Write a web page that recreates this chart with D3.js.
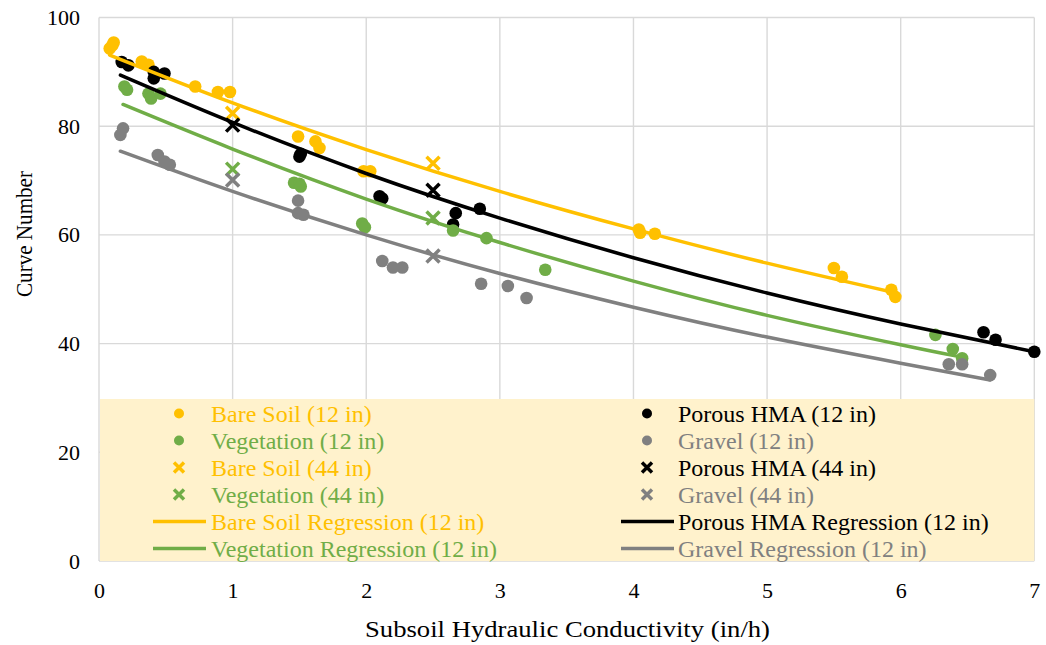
<!DOCTYPE html>
<html>
<head>
<meta charset="utf-8">
<script src="https://cdn.jsdelivr.net/npm/d3@7"></script>
<style>
  html, body { margin: 0; padding: 0; background: #fff; }
  svg { display: block; }
  text { font-family: "Liberation Serif", "Times New Roman", serif; }
</style>
</head>
<body>
<svg id="chart" width="1046" height="645"></svg>
<script>
// ---- data ----
const xTicks = [0, 1, 2, 3, 4, 5, 6, 7];
const yTicks = [0, 20, 40, 60, 80, 100];

const bareSoil12X = [0.08, 0.10, 0.11, 0.32, 0.37, 0.72, 0.89, 0.98, 1.49, 1.62, 1.65, 1.98, 2.03, 4.04, 4.05, 4.16, 5.50, 5.56, 5.93, 5.96];
const bareSoil12Y = [94.3, 94.9, 95.4, 91.9, 91.3, 87.3, 86.3, 86.3, 78.1, 77.2, 76.0, 71.7, 71.7, 61.0, 60.4, 60.2, 53.9, 52.3, 49.9, 48.6];

const hma12X = [0.17, 0.22, 0.41, 0.41, 0.49, 1.50, 1.51, 2.10, 2.12, 2.65, 2.67, 2.85, 6.62, 6.71, 7.0];
const hma12Y = [91.8, 91.2, 90.0, 88.8, 89.7, 74.4, 74.9, 67.1, 66.7, 61.9, 64.0, 64.8, 42.1, 40.7, 38.5];

const veg12X = [0.19, 0.21, 0.37, 0.39, 0.46, 1.46, 1.50, 1.51, 1.97, 1.99, 2.65, 2.90, 3.34, 6.26, 6.39, 6.46];
const veg12Y = [87.3, 86.7, 86.0, 85.1, 86.0, 69.6, 69.4, 68.9, 62.1, 61.4, 60.8, 59.4, 53.6, 41.6, 39.0, 37.3];

const gravel12X = [0.16, 0.18, 0.44, 0.49, 0.53, 1.49, 1.49, 1.53, 2.12, 2.20, 2.27, 2.86, 3.06, 3.20, 6.36, 6.46, 6.67];
const gravel12Y = [78.4, 79.6, 74.7, 73.5, 72.9, 66.3, 64.0, 63.7, 55.2, 54.0, 54.0, 51.0, 50.6, 48.4, 36.2, 36.2, 34.2];

const bareSoil44X = [1, 2.5];
const bareSoil44Y = [82.4, 73.2];
const hma44X = [1, 2.5];
const hma44Y = [80.2, 68.2];
const veg44X = [1, 2.5];
const veg44Y = [72.1, 63.1];
const gravel44X = [1, 2.5];
const gravel44Y = [70.1, 56.1];

const bareRegX = [0.08, 1, 2, 3, 4, 5, 5.95];
const bareRegY = [93.1, 84.3, 75.7, 68.0, 61.1, 54.8, 49.4];
const hmaRegX = [0.16, 1, 2, 3, 4, 5, 6, 7];
const hmaRegY = [89.4, 80.7, 71.3, 63.1, 55.8, 49.3, 43.6, 38.5];
const vegRegX = [0.18, 1, 2, 3, 4, 5, 6, 6.42];
const vegRegY = [84.0, 75.8, 66.6, 58.6, 51.5, 45.2, 39.8, 37.7];
const gravRegX = [0.16, 1, 2, 3, 4, 5, 6, 6.67];
const gravRegY = [75.4, 68.0, 60.0, 52.9, 46.7, 41.2, 36.4, 33.3];

const colors = { bare: "#FFC000", hma: "#000000", veg: "#70AD47", gravel: "#808080" };
const FONT = "'Liberation Serif', 'Times New Roman', serif";

// ---- chart ----
const svg = d3.select("#chart");
const x = d3.scaleLinear().domain([0, 7]).range([99, 1034.3]);
const y = d3.scaleLinear().domain([0, 100]).range([561, 17.5]);

const zip = (xs, ys) => xs.map((v, i) => [v, ys[i]]);

// gridlines
const grid = svg.append("g");
grid.selectAll("line.h").data(yTicks).enter().append("line")
  .attr("x1", x(0)).attr("x2", x(7))
  .attr("y1", d => y(d)).attr("y2", d => y(d))
  .attr("stroke", "#D9D9D9").attr("stroke-width", 1.4);
grid.selectAll("line.v").data(xTicks).enter().append("line")
  .attr("x1", d => x(d)).attr("x2", d => x(d))
  .attr("y1", y(0)).attr("y2", y(100))
  .attr("stroke", "#D9D9D9").attr("stroke-width", 1.4);

// axes (labels only)
const yAxis = d3.axisLeft(y).tickValues(yTicks).tickFormat(d3.format("d")).tickSize(0).tickPadding(0);
const gy = svg.append("g").attr("transform", "translate(80,0)").call(yAxis)
  .attr("font-family", FONT).attr("font-size", 22);
gy.select(".domain").remove();
gy.selectAll("text").attr("fill", "#000");

const xAxis = d3.axisBottom(x).tickValues(xTicks).tickFormat(d3.format("d")).tickSize(0).tickPadding(0);
const gx = svg.append("g").attr("transform", "translate(0,582)").call(xAxis)
  .attr("font-family", FONT).attr("font-size", 22);
gx.select(".domain").remove();
gx.selectAll("text").attr("fill", "#000");

// axis titles
svg.append("text").attr("x", 567.5).attr("y", 637)
  .attr("text-anchor", "middle").attr("font-size", 23).attr("font-family", FONT)
  .attr("textLength", 405).attr("lengthAdjust", "spacingAndGlyphs")
  .text("Subsoil Hydraulic Conductivity (in/h)");
svg.append("text").attr("transform", "translate(32,234) rotate(-90)")
  .attr("text-anchor", "middle").attr("font-size", 24).attr("font-family", FONT)
  .attr("textLength", 126).attr("lengthAdjust", "spacingAndGlyphs")
  .text("Curve Number");

// legend background
svg.append("rect").attr("x", 100).attr("y", 399)
  .attr("width", x(7) - 100).attr("height", y(0) - 399)
  .attr("fill", "#FFF2CC");

// markers
const pts = svg.append("g");
function circles(xs, ys, c) {
  pts.append("g").selectAll("circle").data(zip(xs, ys)).enter().append("circle")
    .attr("cx", d => x(d[0])).attr("cy", d => y(d[1])).attr("r", 6.3).attr("fill", c);
}
function crosses(xs, ys, c) {
  pts.append("g").selectAll("path").data(zip(xs, ys)).enter().append("path")
    .attr("d", d => {
      const cx = x(d[0]), cy = y(d[1]), s = 6.5;
      return `M${cx - s},${cy - s}L${cx + s},${cy + s}M${cx - s},${cy + s}L${cx + s},${cy - s}`;
    })
    .attr("stroke", c).attr("stroke-width", 3.5).attr("fill", "none");
}
circles(bareSoil12X, bareSoil12Y, colors.bare);
circles(hma12X, hma12Y, colors.hma);
circles(veg12X, veg12Y, colors.veg);
circles(gravel12X, gravel12Y, colors.gravel);
crosses(bareSoil44X, bareSoil44Y, colors.bare);
crosses(hma44X, hma44Y, colors.hma);
crosses(veg44X, veg44Y, colors.veg);
crosses(gravel44X, gravel44Y, colors.gravel);

// regression curves
const line = d3.line().x(d => x(d[0])).y(d => y(d[1])).curve(d3.curveNatural);
[[bareRegX, bareRegY, colors.bare], [hmaRegX, hmaRegY, colors.hma],
 [vegRegX, vegRegY, colors.veg], [gravRegX, gravRegY, colors.gravel]].forEach(([xs, ys, c]) => {
  svg.append("path").attr("d", line(zip(xs, ys)))
    .attr("fill", "none").attr("stroke", c).attr("stroke-width", 3.5).attr("stroke-linecap", "round");
});

// legend entries
const legendItems = [
  { label: "Bare Soil (12 in)", color: colors.bare, type: "circle", col: 0, row: 0 },
  { label: "Porous HMA (12 in)", color: colors.hma, type: "circle", col: 1, row: 0 },
  { label: "Vegetation (12 in)", color: colors.veg, type: "circle", col: 0, row: 1 },
  { label: "Gravel (12 in)", color: colors.gravel, type: "circle", col: 1, row: 1 },
  { label: "Bare Soil (44 in)", color: colors.bare, type: "cross", col: 0, row: 2 },
  { label: "Porous HMA (44 in)", color: colors.hma, type: "cross", col: 1, row: 2 },
  { label: "Vegetation (44 in)", color: colors.veg, type: "cross", col: 0, row: 3 },
  { label: "Gravel (44 in)", color: colors.gravel, type: "cross", col: 1, row: 3 },
  { label: "Bare Soil Regression (12 in)", color: colors.bare, type: "line", col: 0, row: 4 },
  { label: "Porous HMA Regression (12 in)", color: colors.hma, type: "line", col: 1, row: 4 },
  { label: "Vegetation Regression (12 in)", color: colors.veg, type: "line", col: 0, row: 5 },
  { label: "Gravel Regression (12 in)", color: colors.gravel, type: "line", col: 1, row: 5 }
];
const colSym = [179, 647], colText = [211, 678];
const lg = svg.append("g").attr("font-family", FONT);
legendItems.forEach(it => {
  const cy = 413.5 + it.row * 27;
  const sx = colSym[it.col];
  if (it.type === "circle") {
    lg.append("circle").attr("cx", sx).attr("cy", cy).attr("r", 5).attr("fill", it.color);
  } else if (it.type === "cross") {
    const s = 5;
    lg.append("path").attr("d", `M${sx - s},${cy - s}L${sx + s},${cy + s}M${sx - s},${cy + s}L${sx + s},${cy - s}`)
      .attr("stroke", it.color).attr("stroke-width", 3.5).attr("fill", "none");
  } else {
    lg.append("line").attr("x1", sx - 26).attr("x2", sx + 27).attr("y1", cy).attr("y2", cy)
      .attr("stroke", it.color).attr("stroke-width", 3.5);
  }
  lg.append("text").attr("x", colText[it.col]).attr("y", cy + 8)
    .attr("font-size", 24).attr("font-family", FONT).attr("fill", it.color).text(it.label);
});
</script>
</body>
</html>
